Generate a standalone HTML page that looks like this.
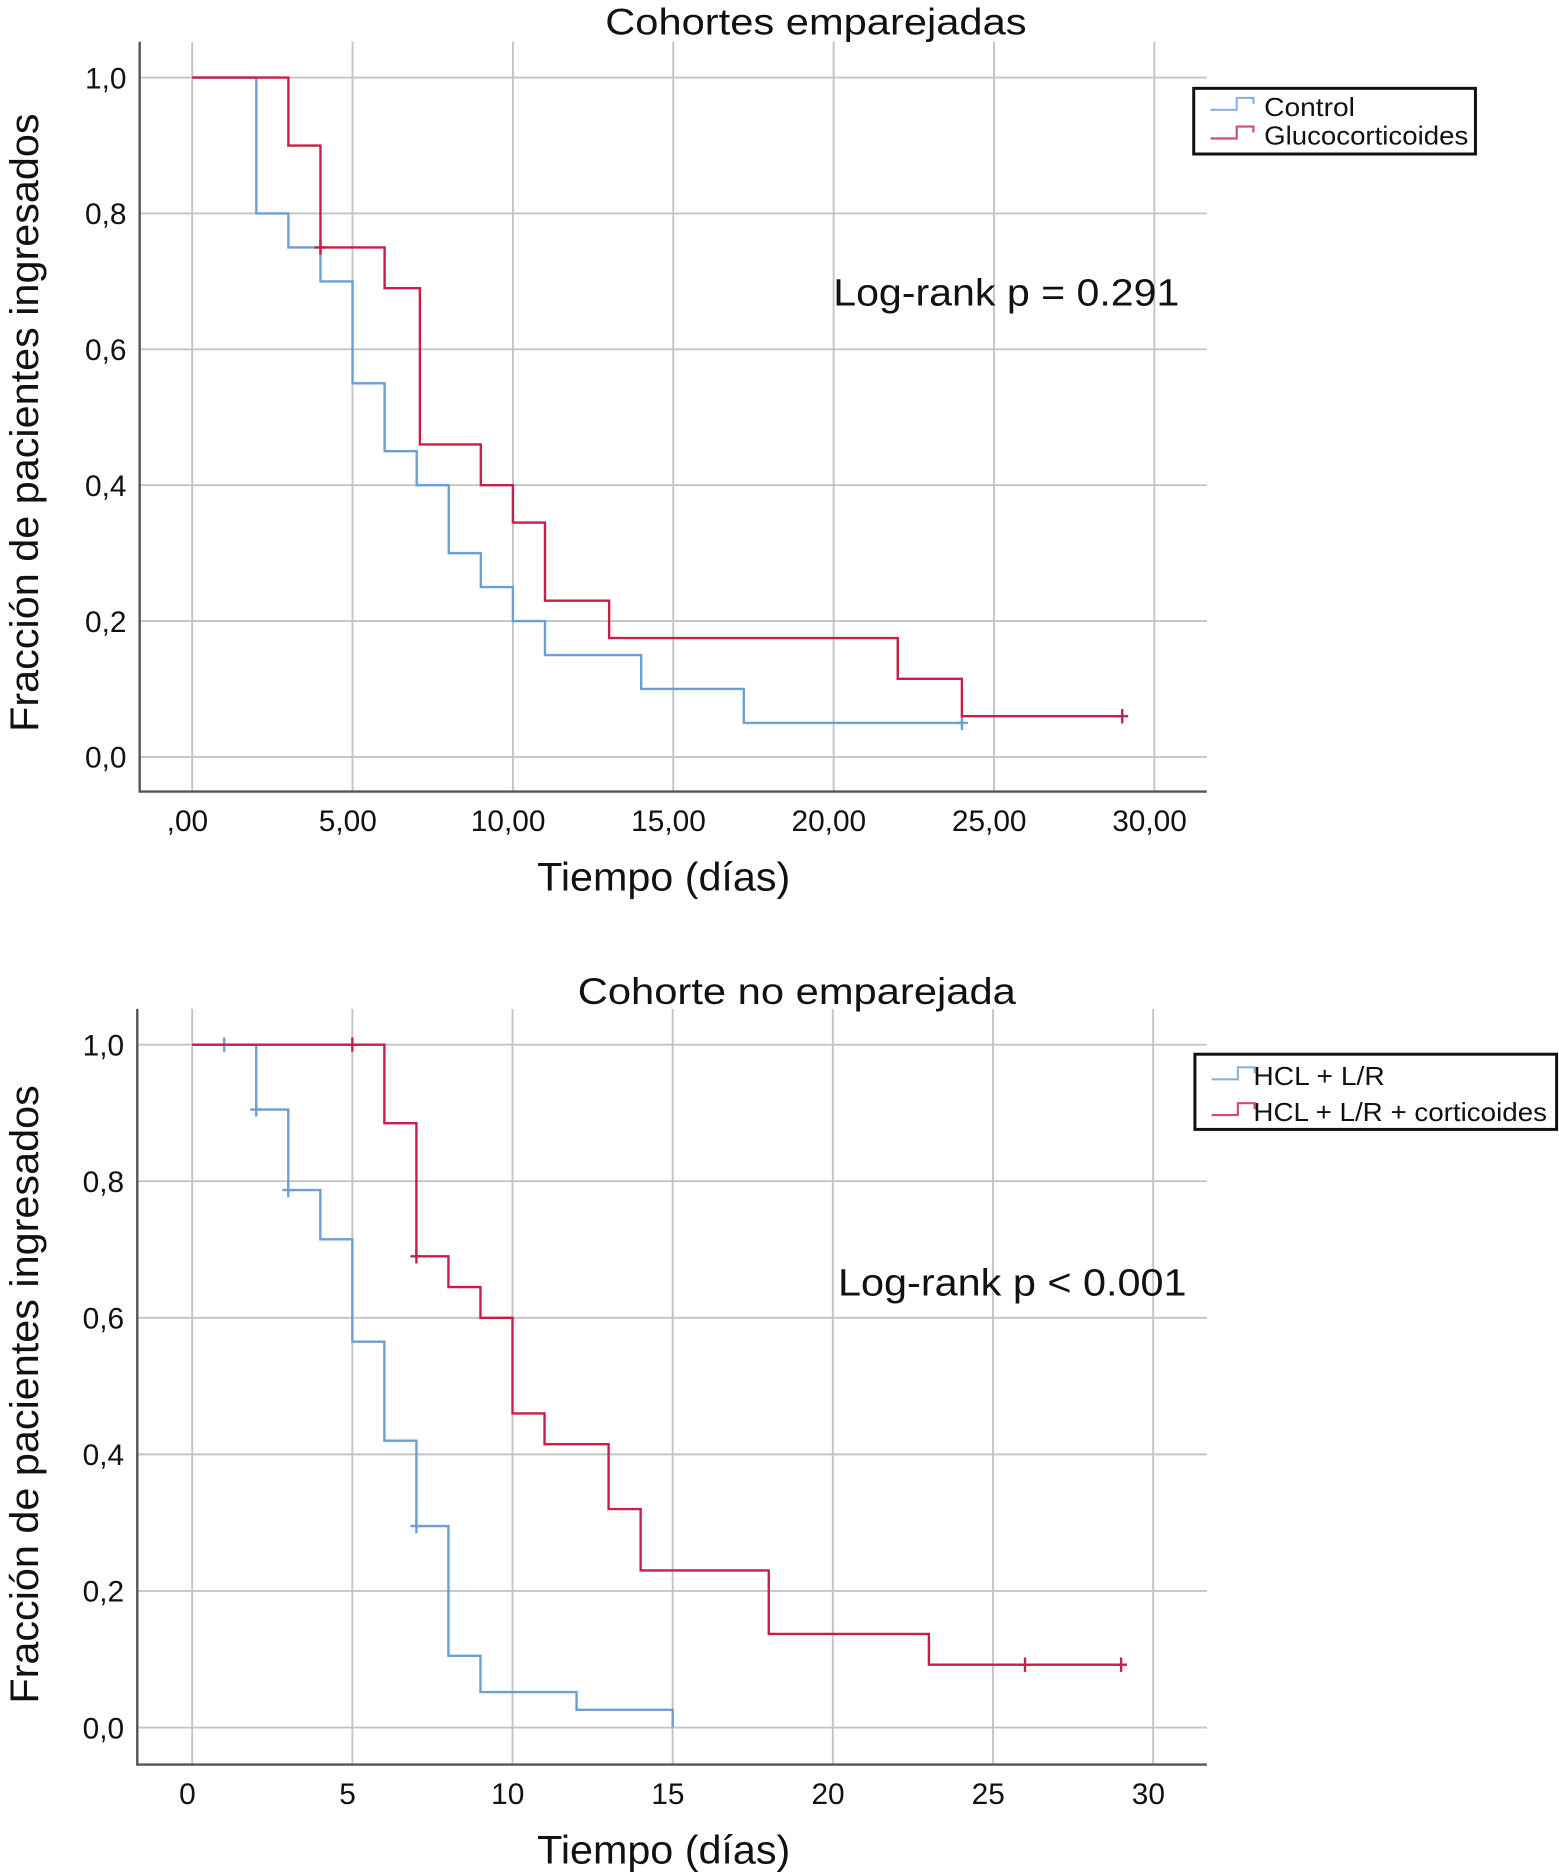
<!DOCTYPE html>
<html><head><meta charset="utf-8"><style>
html,body{margin:0;padding:0;background:#fff;}
svg{display:block;font-family:"Liberation Sans",Arial,sans-serif;}
</style></head><body>
<svg id="c" width="1559" height="1872" viewBox="0 0 1306 1568" preserveAspectRatio="none" xmlns="http://www.w3.org/2000/svg"></svg>
<script>
// Top chart data
const topCtrlTimes = [0,2,3,4,5,6,7,8,9,10,11,14,17.2,24];
const topCtrlSurv  = [1,0.8,0.75,0.70,0.55,0.45,0.40,0.30,0.25,0.20,0.15,0.10,0.05,0.05];
const topCtrlCens  = [24];
const topGlucTimes = [0,3,4,6,7.1,9,10,11,13,22,24,29];
const topGlucSurv  = [1,0.9,0.75,0.69,0.46,0.40,0.345,0.23,0.175,0.115,0.06,0.06];
const topGlucCens  = [4,29];
const topXTicks = [",00","5,00","10,00","15,00","20,00","25,00","30,00"];
// Bottom chart data
const botHclTimes = [0,2,3,4,5,6,7,8,9,12,15,15];
const botHclSurv  = [1,0.905,0.787,0.715,0.565,0.42,0.295,0.105,0.052,0.026,0,0];
const botHclCens  = [1,2,3,7];
const botCorTimes = [0,6,7,8,9,10,11,13,14,18,23,29];
const botCorSurv  = [1,0.885,0.69,0.645,0.60,0.46,0.415,0.32,0.23,0.137,0.092,0.092];
const botCorCens  = [5,7,26,29];
const botXTicks = ["0","5","10","15","20","25","30"];
const yTicks = ["0,0","0,2","0,4","0,6","0,8","1,0"];

const svg=document.getElementById('c');
const NS='http://www.w3.org/2000/svg';
function mk(tag,a,txt){const e=document.createElementNS(NS,tag);for(const k in a)e.setAttribute(k,a[k]);if(txt!==undefined)e.textContent=txt;svg.appendChild(e);return e;}
const BLUE='#6d9fd2',RED='#c81e48';

function survAt(times,surv,t){let v=surv[0];for(let i=0;i<times.length;i++){if(times[i]<=t)v=surv[i];}return v;}

function chart(cfg){
  const sx=t=>cfg.x0+t*(cfg.x30-cfg.x0)/30;
  const sy=v=>cfg.y0+(cfg.y1-cfg.y0)*v;
  for(let i=0;i<=6;i++){const x=sx(i*5);
    let g=mk('line',{x1:x,y1:cfg.top,x2:x,y2:cfg.bot,stroke:'#c4c4c4','stroke-width':1.6});
    
    let t=mk('text',{x:x-4,y:cfg.bot+33,'font-size':25,'text-anchor':'middle',fill:'#111'},cfg.xt[i]);
    }
  for(let i=0;i<=5;i++){const y=sy(i/5);
    let g=mk('line',{x1:cfg.left,y1:y,x2:1011,y2:y,stroke:'#c4c4c4','stroke-width':1.6});
    
    let t=mk('text',{x:cfg.left-11,y:y+9,'font-size':25,'text-anchor':'end',fill:'#111'},yTicks[i]);
    }
  let a=mk('path',{d:`M${cfg.left},${cfg.top}V${cfg.bot}H1011`,fill:'none',stroke:'#555','stroke-width':2});
  
  let ti=mk('text',{x:cfg.titleX,y:cfg.titleY,'font-size':31,fill:'#111',textLength:cfg.titleW,lengthAdjust:'spacingAndGlyphs'},cfg.title);
  
  let xl=mk('text',{x:450,y:cfg.bot+83,'font-size':33,fill:'#111',textLength:212,lengthAdjust:'spacingAndGlyphs'},'Tiempo (días)');
  
  const cy=cfg.yTitleC;
  let yl=mk('text',{x:cy,y:0,'font-size':33,'text-anchor':'middle',fill:'#111',textLength:518,lengthAdjust:'spacingAndGlyphs',transform:`translate(32 ${cy}) rotate(-90) translate(${-cy} 0)`},'Fracción de pacientes ingresados');
  
  let pv=mk('text',{x:cfg.pX,y:cfg.pY,'font-size':32,fill:'#111',textLength:cfg.pW,lengthAdjust:'spacingAndGlyphs'},cfg.pText);
  
  cfg.series.forEach(s=>{
    let d=`M${sx(s.t[0])},${sy(s.s[0])}`;
    for(let i=1;i<s.t.length;i++){d+=`H${sx(s.t[i])}V${sy(s.s[i])}`;}
    let p=mk('path',{d:d,fill:'none',stroke:s.c,'stroke-width':2});
    
    s.cens.forEach(ct=>{const x=sx(ct),y=sy(survAt(s.t,s.s,ct));
      let m=mk('path',{d:`M${x},${y-6}V${y+6}M${x-5},${y}H${x+5}`,stroke:s.c,'stroke-width':2});
      });
  });
  const L=cfg.leg;
  let b=mk('rect',{x:L.x,y:L.y,width:L.w,height:L.h,fill:'#fff',stroke:'#111','stroke-width':2.5});
  
  cfg.series.forEach((s,i)=>{const yy=L.y+L.row*(i+0.5)+3;
    let ic=mk('path',{d:`M${L.x+14},${yy+3}H${L.x+36}V${yy-7}H${L.x+50}V${yy-2}`,fill:'none',stroke:s.c,'stroke-width':1.8,opacity:0.8});
    
    let t=mk('text',{x:L.x+L.tx,y:yy+8,'font-size':L.fs,fill:'#111',textLength:L.tw[i],lengthAdjust:'spacingAndGlyphs'},s.label);
    });
}
chart({x0:161,x30:967,y0:634,y1:65,top:35,bot:663,left:117,xt:topXTicks,title:'Cohortes emparejadas',titleX:507,titleW:353,titleY:29,yTitleC:354,
  pText:'Log-rank p = 0.291',pX:698,pY:256,pW:290,
  leg:{x:1000,y:74,w:236,h:55,row:24,fs:22,tx:59,tw:[76,171]},
  series:[{name:'control',label:'Control',c:BLUE,t:topCtrlTimes,s:topCtrlSurv,cens:topCtrlCens},
          {name:'glucocorticoides',label:'Glucocorticoides',c:RED,t:topGlucTimes,s:topGlucSurv,cens:topGlucCens}]});
chart({x0:161,x30:966,y0:1447,y1:875,top:845,bot:1478,left:115,xt:botXTicks,title:'Cohorte no emparejada',titleX:484,titleW:367,titleY:841,yTitleC:1168,
  pText:'Log-rank p < 0.001',pX:702,pY:1085,pW:292,
  leg:{x:1001,y:883,w:303,h:63,row:30,fs:22,tx:49,tw:[110,246]},
  series:[{name:'hcl-lr',label:'HCL + L/R',c:BLUE,t:botHclTimes,s:botHclSurv,cens:botHclCens},
          {name:'hcl-lr-corticoides',label:'HCL + L/R + corticoides',c:RED,t:botCorTimes,s:botCorSurv,cens:botCorCens}]});
</script>
</body></html>
